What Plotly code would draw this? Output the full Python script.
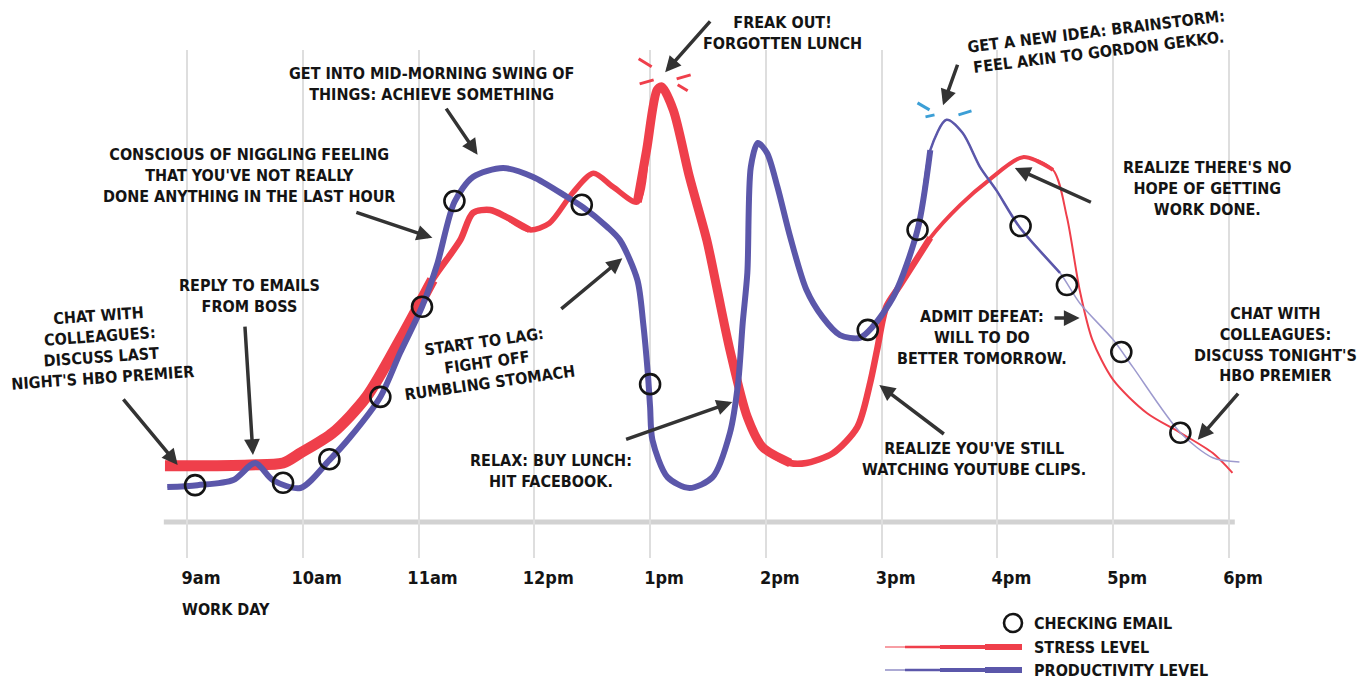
import plotly.graph_objects as go

# ---------------- data ----------------
tick_hours = [9, 10, 11, 12, 13, 14, 15, 16, 17, 18]
tick_labels = ["9am", "10am", "11am", "12pm", "1pm", "2pm", "3pm", "4pm", "5pm", "6pm"]

stress_hours = [8.81, 9.0, 9.54, 9.83, 9.98, 10.26, 10.55, 10.84, 11.12, 11.36,
                11.47, 11.62, 11.76, 11.96, 12.13, 12.33, 12.51, 12.68, 12.89, 12.97,
                13.06, 13.10, 13.20, 13.34, 13.49, 13.58, 13.69, 13.84, 13.97, 14.21,
                14.35, 14.58, 14.79, 14.90, 14.96, 15.04, 15.16, 15.42, 15.68, 15.93,
                16.22, 16.48, 16.60, 16.71, 16.82, 17.00, 17.29, 17.58, 17.86, 18.03]
stress_level = [11.9, 11.9, 12.1, 12.5, 14.6, 18.9, 26.5, 38.6, 51.3, 59.7,
                65.5, 66.1, 64.6, 61.9, 63.3, 69.7, 73.9, 71.0, 67.8, 78.8,
                91.5, 92.2, 87.3, 73.1, 59.7, 49.2, 36.4, 22.2, 15.9, 12.5,
                12.5, 14.6, 20.1, 29.4, 36.4, 45.6, 50.2, 60.2, 67.2, 72.5,
                77.3, 74.6, 64.6, 49.2, 38.6, 30.1, 23.1, 18.9, 14.6, 10.4]

prod_hours = [8.83, 9.09, 9.40, 9.59, 9.74, 9.98, 10.23, 10.41, 10.67, 10.84,
              11.03, 11.16, 11.31, 11.47, 11.73, 11.99, 12.28, 12.42, 12.63,
              12.74, 12.89, 12.94, 12.98, 13.00, 13.02, 13.15, 13.34, 13.54, 13.69,
              13.76, 13.80, 13.84, 13.87, 13.93, 14.01, 14.10, 14.21, 14.35, 14.49,
              14.64, 14.81, 14.92, 15.11, 15.31, 15.42, 15.56, 15.70, 15.85, 15.99,
              16.19, 16.54, 16.71, 17.00, 17.17, 17.58, 17.86, 18.09]
prod_level = [7.4, 7.8, 8.9, 12.5, 8.9, 7.2, 13.1, 18.0, 26.5, 35.8,
              45.6, 54.5, 67.8, 73.1, 75.0, 73.1, 68.9, 66.7, 62.5,
              59.7, 51.3, 42.2, 31.6, 24.4, 17.4, 9.5, 7.2, 9.5, 18.9,
              29.4, 42.2, 52.8, 75.2, 80.3, 78.2, 71.0, 60.4, 49.2, 43.4,
              39.6, 39.0, 41.3, 48.1, 61.9, 78.8, 85.2, 82.4, 75.2, 70.3,
              62.5, 52.8, 46.4, 38.6, 32.8, 18.9, 13.6, 12.7]

email_hours = [9.07, 9.83, 10.23, 10.67, 11.03, 11.31, 12.41, 13.00, 14.88, 15.31,
               16.20, 16.60, 17.07, 17.58]
email_level = [7.8, 8.3, 13.3, 26.5, 45.6, 68.0, 67.2, 29.2, 40.7, 61.9,
               62.7, 50.2, 36.0, 18.9]

notes = [
    "GET INTO MID-MORNING SWING OF<br>THINGS: ACHIEVE SOMETHING",
    "CONSCIOUS OF NIGGLING FEELING<br>THAT YOU'VE NOT REALLY<br>DONE ANYTHING IN THE LAST HOUR",
    "FREAK OUT!<br>FORGOTTEN LUNCH",
    "GET A NEW IDEA: BRAINSTORM:<br>FEEL AKIN TO GORDON GEKKO.",
    "REALIZE THERE'S NO<br>HOPE OF GETTING<br>WORK DONE.",
    "CHAT WITH<br>COLLEAGUES:<br>DISCUSS LAST<br>NIGHT'S HBO PREMIER",
    "REPLY TO EMAILS<br>FROM BOSS",
    "START TO LAG:<br>FIGHT OFF<br>RUMBLING STOMACH",
    "RELAX: BUY LUNCH:<br>HIT FACEBOOK.",
    "REALIZE YOU'VE STILL<br>WATCHING YOUTUBE CLIPS.",
    "ADMIT DEFEAT:<br>WILL TO DO<br>BETTER TOMORROW.",
    "CHAT WITH<br>COLLEAGUES:<br>DISCUSS TONIGHT'S<br>HBO PREMIER",
]
legend_labels = ["CHECKING EMAIL", "STRESS LEVEL", "PRODUCTIVITY LEVEL"]
axis_title = "WORK DAY"

# ---------------- style / layout ----------------
RED = "#ef3f4b"
BLUE = "#5b57aa"
BLUE_FADED = "#9d9ace"
INK = "#141414"
FONT = "DejaVu Sans Condensed, DejaVu Sans, sans-serif"
HOUR_PX = 115.8   # pixels per hour
LEVEL_PX = 4.72   # pixels per level unit
X_RANGE = [8.793, 18.095]
Y_RANGE = [-7.63, 100]

# note positions (hour, level, angle)
note_pos = [(11.11, 92.8, 0), (9.54, 73.5, 0), (14.14, 103.6, 0), (16.86, 101.7, -7),
            (17.81, 70.6, 0), (8.25, 37.1, -4), (9.54, 47.9, 0), (11.59, 33.7, -8),
            (12.14, 10.8, 0), (15.80, 13.3, 0), (15.87, 39.0, 0), (18.40, 37.7, 0)]
# arrows: tail (hour, level) -> head (hour, level)
arrows = [((11.23, 87.9), (11.51, 77.8)), ((10.45, 65.7), (11.12, 60.2)),
          ((13.53, 106.4), (13.13, 95.3)), ((15.66, 97.2), (15.53, 88.3)),
          ((16.82, 67.6), (16.15, 75.0)), ((8.44, 26.3), (8.92, 12.1)),
          ((9.50, 41.7), (9.57, 14.2)), ((12.22, 44.9), (12.76, 55.9)),
          ((12.78, 17.4), (13.71, 25.4)), ((15.55, 18.4), (14.98, 29.0)),
          ((16.48, 43.2), (16.71, 43.2)), ((18.09, 27.5), (17.73, 17.4))]

stress_widths = [(0, 8, 11), (7, 13, 6.5), (12, 19, 5.5), (18, 29, 9), (27, 37, 6.5), (35, 41, 4)]
prod_widths = [(0, 44, 6), (42, 50, 2.5)]


def to_paper(h, lv):
    return ((h - X_RANGE[0]) / (X_RANGE[1] - X_RANGE[0]),
            (lv - Y_RANGE[0]) / (Y_RANGE[1] - Y_RANGE[0]))


fig = go.Figure()

# stress level
fig.add_trace(go.Scatter(x=stress_hours, y=stress_level, mode="lines",
                         line=dict(color=RED, width=2, shape="spline", smoothing=0.8),
                         hoverinfo="skip", showlegend=False))
for a, b, w in stress_widths:
    fig.add_trace(go.Scatter(x=stress_hours[a:b + 1], y=stress_level[a:b + 1], mode="lines",
                             line=dict(color=RED, width=w, shape="spline", smoothing=0.8),
                             hoverinfo="skip", showlegend=False))

# productivity level
fig.add_trace(go.Scatter(x=prod_hours, y=prod_level, mode="lines",
                         line=dict(color=BLUE_FADED, width=1.5, shape="spline", smoothing=0.8),
                         hoverinfo="skip", showlegend=False))
for a, b, w in prod_widths:
    fig.add_trace(go.Scatter(x=prod_hours[a:b + 1], y=prod_level[a:b + 1], mode="lines",
                             line=dict(color=BLUE, width=w, shape="spline", smoothing=0.8),
                             hoverinfo="skip", showlegend=False))

# checking email
fig.add_trace(go.Scatter(x=email_hours, y=email_level, mode="markers",
                         marker=dict(symbol="circle-open", size=20, color=INK,
                                     line=dict(width=2.6, color=INK)),
                         cliponaxis=False, hoverinfo="skip", showlegend=False))

shapes = []
# baseline
shapes.append(dict(type="line", xref="x", yref="y", x0=8.80, x1=18.05, y0=0, y1=0,
                   line=dict(color="#d2d2d2", width=5), layer="below"))


# bursts around peaks
def burst(series_h, series_l, strokes, color):
    i = max(range(len(series_l)), key=lambda k: series_l[k])
    px0, py0 = series_h[i], series_l[i]
    for (dx0, dy0, dx1, dy1) in strokes:
        shapes.append(dict(type="line", xref="x", yref="y",
                           x0=px0 + dx0 / HOUR_PX, y0=py0 - dy0 / LEVEL_PX,
                           x1=px0 + dx1 / HOUR_PX, y1=py0 - dy1 / LEVEL_PX,
                           line=dict(color=color, width=3)))


burst(stress_hours, stress_level,
      [(-23, -28, -10, -20), (-22, -3, -8, -7), (15, -8, 29, -12), (16, -2, 26, 4)], RED)
burst(prod_hours, prod_level,
      [(-29, -17, -17, -10), (-21, -3, -12, -5), (12, -5, 25, -9)], "#3c9fd6")

annotations = []
for txt, (hx, lv, ang) in zip(notes, note_pos):
    px_, py_ = to_paper(hx, lv)
    annotations.append(dict(x=px_, y=py_, xref="paper", yref="paper", text=txt, showarrow=False,
                            textangle=ang, align="center", xanchor="center", yanchor="middle",
                            font=dict(family=FONT, size=16, color=INK, weight="bold")))
for (t, h) in arrows:
    annotations.append(dict(x=h[0], y=h[1], ax=t[0], ay=t[1], xref="x", yref="y",
                            axref="x", ayref="y", text="", showarrow=True,
                            arrowhead=2, arrowsize=0.9, arrowwidth=3.5, arrowcolor="#333333"))

annotations.append(dict(x=0.0159, y=-0.102, xref="paper", yref="paper", text=axis_title,
                        showarrow=False, xanchor="left", yanchor="middle",
                        font=dict(family=FONT, size=16, color=INK, weight="bold")))


# manual legend (paper coords derived from plot box 163..1240 x 50..558)
def px2paper(px, py):
    return (px - 163) / 1077, (558 - py) / 508


legend_rows = [623, 647, 670]
for lab, row in zip(legend_labels, legend_rows):
    lx, ly = px2paper(1032, row)
    annotations.append(dict(x=lx, y=ly, xref="paper", yref="paper", text=lab, showarrow=False,
                            xanchor="left", yanchor="middle",
                            font=dict(family=FONT, size=16, color=INK, weight="bold")))
cx0, cy0 = px2paper(1004, 614)
cx1, cy1 = px2paper(1022, 632)
shapes.append(dict(type="circle", xref="paper", yref="paper", x0=cx0, y0=cy0, x1=cx1, y1=cy1,
                   line=dict(color=INK, width=2.6)))
for color, row in [(RED, 647), (BLUE, 670)]:
    for start, w in [(885, 1.2), (905, 2.5), (940, 4), (985, 6)]:
        x0, y0 = px2paper(start, row)
        x1, _ = px2paper(1022, row)
        shapes.append(dict(type="line", xref="paper", yref="paper", x0=x0, x1=x1, y0=y0, y1=y0,
                           line=dict(color=color, width=w)))

fig.update_layout(
    width=1364, height=687,
    margin=dict(l=163, r=124, t=50, b=129),
    plot_bgcolor="white", paper_bgcolor="white",
    xaxis=dict(range=X_RANGE, tickvals=tick_hours, ticktext=tick_labels,
               showgrid=True, gridcolor="#dedede", gridwidth=1.5, zeroline=False,
               showline=False, ticks="", ticklabelshift=14, ticklabelstandoff=7,
               tickfont=dict(family=FONT, size=18, color=INK, weight="bold"), fixedrange=True),
    yaxis=dict(range=Y_RANGE, visible=False, fixedrange=True),
    shapes=shapes, annotations=annotations, showlegend=False,
)

fig.write_html("out.html", config={"displayModeBar": False},
               post_script="document.body.style.margin='0';")
